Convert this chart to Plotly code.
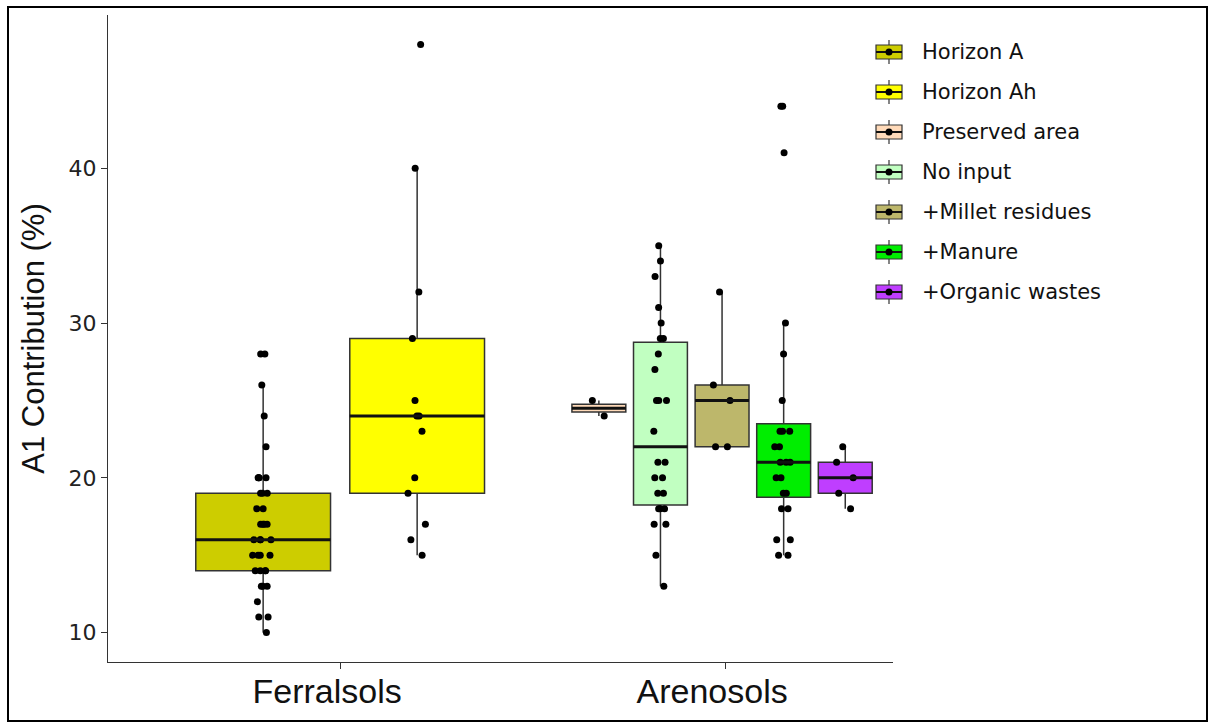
import numpy as np
import plotly.graph_objects as go

# ---- data -------------------------------------------------------------
soils = ["Ferralsols", "Arenosols"]

groups = ["Horizon A", "Horizon Ah", "Preserved area", "No input",
          "+Millet residues", "+Manure", "+Organic wastes"]
group_soil = ["Ferralsols", "Ferralsols", "Arenosols", "Arenosols",
              "Arenosols", "Arenosols", "Arenosols"]

horizon_a = [28, 28, 26, 24, 22, 20, 20, 20, 20, 19, 19, 19, 18, 18,
             17, 17, 17, 17, 16, 16, 16, 16, 15, 15, 15, 15, 14, 14,
             14, 14, 13, 13, 13, 12, 11, 11, 10]
horizon_ah = [48, 40, 32, 29, 25, 24, 24, 23, 20, 19, 17, 16, 15]
preserved_area = [25, 24]
no_input = [35, 34, 33, 31, 30, 29, 29, 28, 27, 25, 25, 25, 23, 21, 21,
            20, 20, 19, 19, 18, 18, 18, 17, 17, 15, 13]
millet_residues = [32, 26, 25, 22, 22]
manure = [44, 44, 41, 30, 28, 25, 23, 23, 23, 22, 22, 21, 21, 21, 20,
          20, 19, 19, 18, 18, 16, 16, 15, 15]
organic_wastes = [22, 21, 20, 19, 18]

values = [horizon_a, horizon_ah, preserved_area, no_input,
          millet_residues, manure, organic_wastes]

# ---- styling ----------------------------------------------------------
fills = ["#CDCD00", "#FFFF00", "#FFDAB9", "#C1FFC1",
         "#BDB76B", "#00EE00", "#BF3EFF"]
edge = "#333333"

# dodge layout per soil: (center, step, box width, jitter)
dodge = {"Ferralsols": (1.0, 0.40, 0.35, 0.16),
         "Arenosols": (1.992, 0.16, 0.14, 0.38)}

W, H = 1213, 726
L, R, T, B = 108, 320, 15, 64
PW, PH = W - L - R, H - T - B


def px(x):
    return (x - L) / PW


def py(y):
    return (H - B - y) / PH


fig = go.Figure()

# box positions
positions = []
for soil in soils:
    members = [i for i, s in enumerate(group_soil) if s == soil]
    c, step, w, j = dodge[soil]
    k = len(members)
    for n, i in enumerate(members):
        positions.append((i, c + (n - (k - 1) / 2) * step, w, j))
positions.sort()

# boxes (Tukey style, quantiles like R type 7)
medians = []
for i, pos, w, j in positions:
    v = np.array(values[i], dtype=float)
    q1, med, q3 = np.percentile(v, [25, 50, 75])
    iqr = q3 - q1
    lf = v[v >= q1 - 1.5 * iqr].min()
    uf = v[v <= q3 + 1.5 * iqr].max()
    medians.append((pos, w, med))
    fig.add_trace(go.Box(
        x=[pos], q1=[q1], median=[med], q3=[q3],
        lowerfence=[lf], upperfence=[uf],
        width=w, whiskerwidth=0, boxpoints=False,
        fillcolor=fills[i], line=dict(color=edge, width=1.5),
        name=groups[i], showlegend=False, hoverinfo="skip"))

# thicker median bars
for pos, w, med in medians:
    fig.add_trace(go.Scatter(
        x=[pos - w / 2, pos + w / 2], y=[med, med], mode="lines",
        line=dict(color="#111111", width=3), showlegend=False,
        hoverinfo="skip"))

# jittered observations
for i, pos, w, j in positions:
    fig.add_trace(go.Box(
        x=[pos] * len(values[i]), y=values[i], width=w,
        boxpoints="all", jitter=j, pointpos=0,
        fillcolor="rgba(0,0,0,0)", line=dict(color="rgba(0,0,0,0)", width=0),
        marker=dict(color="#000000", size=7),
        showlegend=False, hoverinfo="skip"))

# ---- legend drawn as keys -------------------------------------------
shapes = []
annotations = []
key_x0, key_x1 = 876, 902
key_cx = (key_x0 + key_x1) / 2
for n, g in enumerate(groups):
    cy = 52 + n * 40
    shapes.append(dict(type="line", xref="paper", yref="paper",
                       x0=px(key_cx), x1=px(key_cx), y0=py(cy - 12), y1=py(cy + 12),
                       line=dict(color=edge, width=1.2)))
    shapes.append(dict(type="rect", xref="paper", yref="paper",
                       x0=px(key_x0), x1=px(key_x1), y0=py(cy - 7), y1=py(cy + 7),
                       fillcolor=fills[n], line=dict(color=edge, width=1.2)))
    shapes.append(dict(type="line", xref="paper", yref="paper",
                       x0=px(key_x0), x1=px(key_x1), y0=py(cy), y1=py(cy),
                       line=dict(color="#111111", width=2)))
    shapes.append(dict(type="circle", xref="paper", yref="paper",
                       x0=px(key_cx - 3.5), x1=px(key_cx + 3.5),
                       y0=py(cy + 3.5), y1=py(cy - 3.5),
                       fillcolor="#000000", line=dict(width=0)))
    annotations.append(dict(xref="paper", yref="paper", x=px(920), y=py(cy),
                            xanchor="left", yanchor="middle", showarrow=False,
                            text=g, font=dict(family="DejaVu Sans", size=21,
                                              color="#111111")))

# outer frame
shapes.append(dict(type="rect", xref="paper", yref="paper",
                   x0=px(8), x1=px(1207), y0=py(721), y1=py(7),
                   line=dict(color="#000000", width=2), layer="above"))

fig.update_layout(
    width=W, height=H,
    margin=dict(l=L, r=R, t=T, b=B),
    plot_bgcolor="white", paper_bgcolor="white",
    showlegend=False, boxmode="overlay",
    shapes=shapes, annotations=annotations,
)
fig.update_xaxes(
    range=[0.397, 2.436], tickvals=[1, 2], ticktext=soils,
    showline=True, linecolor=edge, linewidth=1.3,
    ticks="outside", ticklen=6, tickcolor=edge, tickwidth=1.2,
    tickfont=dict(family="Liberation Sans", size=34, color="#111111"),
    ticklabelshift=-13, ticklabelstandoff=-7,
    showgrid=False, zeroline=False, automargin=False,
)
fig.update_yaxes(
    range=[8.1, 49.9], tickvals=[10, 20, 30, 40],
    showline=True, linecolor=edge, linewidth=1.3,
    ticks="outside", ticklen=6, tickcolor=edge, tickwidth=1.2,
    tickfont=dict(family="DejaVu Sans", size=22, color="#222222"),
    title=dict(text="A1 Contribution (%)", standoff=14,
               font=dict(family="Liberation Sans", size=31, color="#111111")),
    showgrid=False, zeroline=False, automargin=False,
)

fig.write_html("out.html")
